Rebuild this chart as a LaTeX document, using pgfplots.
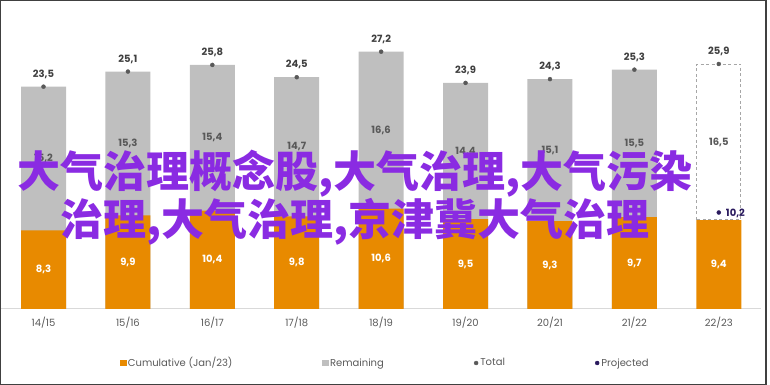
\documentclass[border=0pt]{standalone}
\usepackage{pgfplots}
\pgfplotsset{compat=1.18}
\usepackage{pgfplotstable}
\usepackage{fontspec}
\setmainfont{Poppins}
\newfontfamily\cjk{Noto Sans CJK SC}
\definecolor{orange1}{HTML}{E88A00}
\definecolor{barGray}{HTML}{BFBFBF}
\definecolor{dotgray}{HTML}{595959}
\definecolor{labelgray}{HTML}{595959}
\definecolor{totgray}{HTML}{404040}
\definecolor{axisgray}{HTML}{D9D9D9}
\definecolor{framec}{HTML}{404040}
\definecolor{dashgray}{HTML}{A6A6A6}
\definecolor{navy1}{HTML}{2A1A5E}
\definecolor{purple1}{HTML}{8A2BE2}

\pgfplotstableread{
x c r t
0 8.3 15.2 23.5
1 9.9 15.3 25.1
2 10.4 15.4 25.8
3 9.8 14.7 24.5
4 10.6 16.6 27.2
5 9.5 14.4 23.9
6 9.3 15.1 24.3
7 9.7 15.5 25.3
8 9.4 16.5 25.9
}\data

\begin{document}
\begin{tikzpicture}[x=1pt,y=1pt]
\useasboundingbox (0,0) rectangle (770,385);
\draw[draw=framec, line width=1.3pt] (0.75,0.75) rectangle (766,384.25);
\begin{axis}[
  at={(1.3pt,76pt)}, anchor=south west,
  scale only axis, width=759.7pt, height=283.8pt,
  xmin=-0.5, xmax=8.5, ymin=0, ymax=30,
  hide y axis,
  axis x line*=bottom,
  x axis line style={-, draw=axisgray, line width=1pt},
  xtick={0,...,8},
  xticklabels={14/15,15/16,16/17,17/18,18/19,19/20,20/21,21/22,22/23},
  major tick length=0pt,
  xticklabel style={font=\fontsize{10}{12}\selectfont, text=labelgray, yshift=-4.5pt},
  clip=false,
  /pgf/number format/.cd, fixed, fixed zerofill, precision=1, use comma, assume math mode=true,
  /pgfplots/.cd,
  legend columns=4,
  legend style={draw=none, fill=none, at={(0.5057,-0.1903)}, anchor=center,
    font=\fontsize{10}{12}\selectfont, text=labelgray,
    /tikz/every even column/.append style={column sep=88pt}},
]
% legend
\addlegendimage{legend image code/.code={\fill[orange1] (0pt,-2.6pt) rectangle (5.2pt,2.6pt);}}
\addlegendentry{Cumulative (Jan/23)}
\addlegendimage{legend image code/.code={\fill[barGray] (0pt,-2.6pt) rectangle (5.2pt,2.6pt);}}
\addlegendentry{Remaining}
\addlegendimage{legend image code/.code={\fill[dotgray] (2.6pt,0pt) circle (2pt);}}
\addlegendentry{Total}
\addlegendimage{legend image code/.code={\fill[navy1] (2.6pt,0pt) circle (2pt);}}
\addlegendentry{Projected}

% gray (total) bars
\addplot[ybar, bar width=45pt, bar shift=0pt, fill=barGray, draw=none, restrict x to domain=-0.5:7.5, forget plot]
  table[x=x,y=t]{\data};
% orange bars
\addplot[ybar, bar width=45pt, bar shift=0pt, fill=orange1, draw=none, forget plot]
  table[x=x,y=c]{\data};
% projected remaining: dashed outline from 9.4 to 25.9
\addplot[draw=dashgray, line width=0.9pt, dash pattern=on 3pt off 2.5pt, forget plot]
  coordinates {(7.7387,9.45) (7.7387,25.9) (8.2613,25.9) (8.2613,9.45) (7.7387,9.45)};

% orange labels
\addplot[draw=none, forget plot, point meta=explicit,
  nodes near coords,
  nodes near coords style={anchor=center, font=\fontsize{10}{12}\selectfont\bfseries, text=white}]
  table[x=x, y expr=\thisrow{c}/2, meta=c]{\data};
% remaining labels
\addplot[draw=none, forget plot, point meta=explicit,
  nodes near coords,
  nodes near coords style={anchor=center, font=\fontsize{10}{12}\selectfont\bfseries, text=labelgray}]
  table[x=x, y expr=(\thisrow{c}+\thisrow{t})/2, meta=r]{\data};
% total dots
\addplot[only marks, mark=*, mark size=2pt, color=dotgray, forget plot, point meta=explicit,
  nodes near coords,
  nodes near coords style={anchor=base, inner sep=0pt, yshift=9.5pt, font=\fontsize{10}{12}\selectfont\bfseries, text=totgray}]
  table[x=x, y=t, meta=t]{\data};
% projected dot
\addplot[only marks, mark=*, mark size=2pt, color=navy1, forget plot, point meta=explicit,
  nodes near coords,
  nodes near coords style={anchor=base west, inner sep=0pt, xshift=7pt, yshift=-3.6pt, font=\fontsize{10}{12}\selectfont\bfseries, text=navy1}]
  coordinates {(8,10.2) [10.2]};
\end{axis}
\node[text=purple1, font=\cjk\bfseries\fontsize{43}{43}\selectfont, align=center, inner sep=0pt]
  at (355,187.5) {大气治理概念股,大气治理,大气污染\\治理,大气治理,京津冀大气治理};
\end{tikzpicture}
\end{document}
